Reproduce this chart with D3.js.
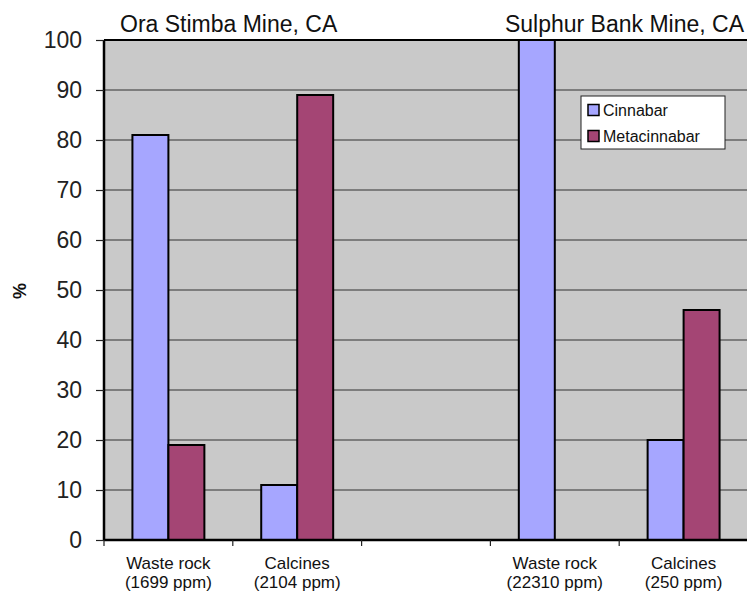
<!DOCTYPE html>
<html>
<head>
<meta charset="utf-8">
<script src="https://cdn.jsdelivr.net/npm/d3@7"></script>
<style>
  html, body { margin: 0; padding: 0; background: #ffffff; }
  svg { display: block; font-family: "Liberation Sans", Arial, Helvetica, sans-serif; }
</style>
</head>
<body>
<svg id="chart" width="747" height="592"></svg>
<script>
// Mercury phase proportions (%) in mine waste, two California sites
const categoryNames = ["Waste rock", "Calcines", "", "Waste rock", "Calcines"];
const categoryNotes = ["(1699 ppm)", "(2104 ppm)", "", "(22310 ppm)", "(250 ppm)"];
const cinnabar     = [81, 11, null, 100, 20];
const metacinnabar = [19, 89, null, 0, 46];
const seriesNames  = ["Cinnabar", "Metacinnabar"];
const siteTitles   = ["Ora Stimba Mine, CA", "Sulphur Bank Mine, CA"];
const yTicks       = [0, 10, 20, 30, 40, 50, 60, 70, 80, 90, 100];

const colors = { Cinnabar: "#a6a6ff", Metacinnabar: "#a44574" };

const svg = d3.select("#chart");
const plot = { left: 104, right: 748, top: 40, bottom: 540 };

const idx = categoryNames.map((_, i) => i);
const x0 = d3.scaleBand().domain(idx).range([plot.left, plot.right]).paddingInner(0).paddingOuter(0);
const x1 = d3.scaleBand().domain(seriesNames).range([0, x0.bandwidth()]).paddingInner(0).paddingOuter(0.79);
const y = d3.scaleLinear().domain([0, 100]).range([plot.bottom, plot.top]);

// plot background
svg.append("rect")
  .attr("x", plot.left).attr("y", plot.top)
  .attr("width", plot.right - plot.left).attr("height", plot.bottom - plot.top)
  .attr("fill", "#c9c9c9");

// horizontal gridlines
svg.append("g").selectAll("line")
  .data(yTicks.filter(t => t > 0 && t < 100))
  .join("line")
  .attr("x1", plot.left).attr("x2", plot.right)
  .attr("y1", d => y(d)).attr("y2", d => y(d))
  .attr("stroke", "#333").attr("stroke-width", 1.2);

// bars
const rows = idx.map(i => ({ i, values: [
  { key: "Cinnabar", v: cinnabar[i] },
  { key: "Metacinnabar", v: metacinnabar[i] }
]}));
const groups = svg.append("g").selectAll("g")
  .data(rows).join("g")
  .attr("transform", d => `translate(${x0(d.i)},0)`);
groups.selectAll("rect")
  .data(d => d.values.filter(e => e.v !== null && e.v > 0))
  .join("rect")
  .attr("x", d => x1(d.key))
  .attr("y", d => y(d.v))
  .attr("width", x1.bandwidth())
  .attr("height", d => y(0) - y(d.v))
  .attr("fill", d => colors[d.key])
  .attr("stroke", "#000").attr("stroke-width", 2);

// plot frame: top edge
svg.append("line").attr("x1", plot.left).attr("x2", plot.right)
  .attr("y1", plot.top).attr("y2", plot.top).attr("stroke", "#000").attr("stroke-width", 2.2);

// y axis
const yAxis = d3.axisLeft(y).tickValues(yTicks).tickSize(8).tickPadding(14);
const gy = svg.append("g").attr("transform", `translate(${plot.left},0)`).call(yAxis);
gy.select(".domain").attr("stroke", "#000").attr("stroke-width", 2.5).attr("d", `M0,${plot.top}V${plot.bottom}`);
gy.selectAll(".tick line").attr("stroke", "#222").attr("stroke-width", 1.2);
gy.selectAll(".tick text").attr("font-size", 23).attr("fill", "#222")
  .attr("font-family", "'Liberation Sans', Arial, sans-serif");

// x axis with ticks at category boundaries
const gx = svg.append("g").attr("transform", `translate(0,${plot.bottom})`);
gx.append("line").attr("x1", plot.left).attr("x2", plot.right)
  .attr("stroke", "#000").attr("stroke-width", 2.5);
gx.selectAll("line.tk").data(idx).join("line").attr("class", "tk")
  .attr("x1", d => x0(d)).attr("x2", d => x0(d))
  .attr("y1", 0).attr("y2", 6).attr("stroke", "#222").attr("stroke-width", 1.2);

const labels = gx.selectAll("text.cat").data(idx).join("text").attr("class", "cat")
  .attr("x", d => x0(d) + x0.bandwidth() / 2)
  .attr("text-anchor", "middle").attr("font-size", 17).attr("fill", "#111");
labels.append("tspan").attr("x", d => x0(d) + x0.bandwidth() / 2).attr("y", 29).text(d => categoryNames[d]);
labels.append("tspan").attr("x", d => x0(d) + x0.bandwidth() / 2).attr("y", 48).text(d => categoryNotes[d]);

// site titles
svg.append("text").attr("x", 120).attr("y", 32).attr("font-size", 23).attr("fill", "#111").text(siteTitles[0]);
svg.append("text").attr("x", 744).attr("y", 32).attr("text-anchor", "end").attr("font-size", 23).attr("fill", "#111").text(siteTitles[1]);

// y axis title
svg.append("text").attr("transform", "translate(26,291) rotate(-90)")
  .attr("text-anchor", "middle").attr("font-size", 18).attr("font-weight", "bold").attr("fill", "#111").text("%");

// legend
const lg = svg.append("g").attr("transform", "translate(581,96)");
lg.append("rect").attr("width", 144).attr("height", 53).attr("fill", "#fff").attr("stroke", "#222").attr("stroke-width", 1);
seriesNames.forEach((s, k) => {
  const row = lg.append("g").attr("transform", `translate(7,${14 + k * 26})`);
  row.append("rect").attr("x", 0).attr("y", -5.5).attr("width", 11).attr("height", 11)
    .attr("fill", colors[s]).attr("stroke", "#000").attr("stroke-width", 1.5);
  row.append("text").attr("x", 15).attr("y", 6).attr("font-size", 16).attr("fill", "#111").text(s);
});
</script>
</body>
</html>
